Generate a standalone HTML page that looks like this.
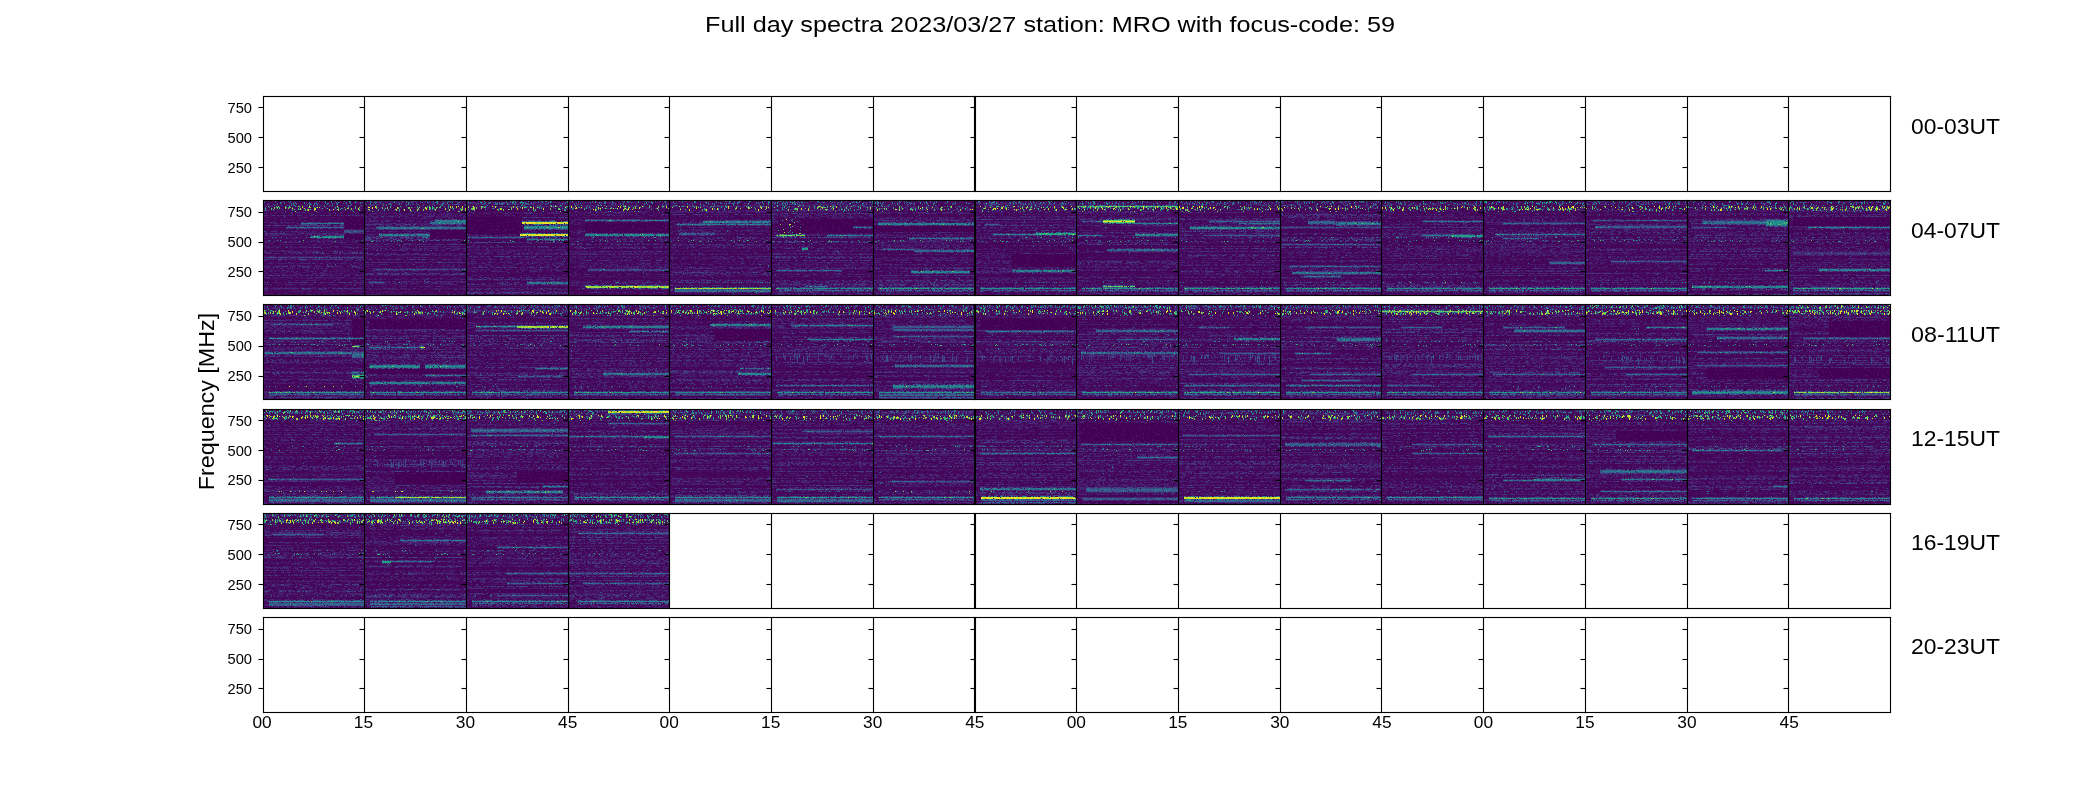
<!DOCTYPE html>
<html><head><meta charset="utf-8"><style>
html,body{margin:0;padding:0;background:#fff;}
body{width:2100px;height:800px;position:relative;overflow:hidden;}
canvas{position:absolute;background:#431e66;display:block;}
svg{position:absolute;left:0;top:0;}
text{font-family:"Liberation Sans", sans-serif;fill:#000;}
</style></head><body>
<canvas id="c1_0" width="101" height="95" style="left:263px;top:200px;width:101px;height:95px"></canvas><canvas id="c1_1" width="102" height="95" style="left:364px;top:200px;width:102px;height:95px"></canvas><canvas id="c1_2" width="102" height="95" style="left:466px;top:200px;width:102px;height:95px"></canvas><canvas id="c1_3" width="101" height="95" style="left:568px;top:200px;width:101px;height:95px"></canvas><canvas id="c1_4" width="102" height="95" style="left:669px;top:200px;width:102px;height:95px"></canvas><canvas id="c1_5" width="102" height="95" style="left:771px;top:200px;width:102px;height:95px"></canvas><canvas id="c1_6" width="102" height="95" style="left:873px;top:200px;width:102px;height:95px"></canvas><canvas id="c1_7" width="101" height="95" style="left:975px;top:200px;width:101px;height:95px"></canvas><canvas id="c1_8" width="102" height="95" style="left:1076px;top:200px;width:102px;height:95px"></canvas><canvas id="c1_9" width="102" height="95" style="left:1178px;top:200px;width:102px;height:95px"></canvas><canvas id="c1_10" width="101" height="95" style="left:1280px;top:200px;width:101px;height:95px"></canvas><canvas id="c1_11" width="102" height="95" style="left:1381px;top:200px;width:102px;height:95px"></canvas><canvas id="c1_12" width="102" height="95" style="left:1483px;top:200px;width:102px;height:95px"></canvas><canvas id="c1_13" width="102" height="95" style="left:1585px;top:200px;width:102px;height:95px"></canvas><canvas id="c1_14" width="101" height="95" style="left:1687px;top:200px;width:101px;height:95px"></canvas><canvas id="c1_15" width="102" height="95" style="left:1788px;top:200px;width:102px;height:95px"></canvas><canvas id="c2_0" width="101" height="95" style="left:263px;top:304px;width:101px;height:95px"></canvas><canvas id="c2_1" width="102" height="95" style="left:364px;top:304px;width:102px;height:95px"></canvas><canvas id="c2_2" width="102" height="95" style="left:466px;top:304px;width:102px;height:95px"></canvas><canvas id="c2_3" width="101" height="95" style="left:568px;top:304px;width:101px;height:95px"></canvas><canvas id="c2_4" width="102" height="95" style="left:669px;top:304px;width:102px;height:95px"></canvas><canvas id="c2_5" width="102" height="95" style="left:771px;top:304px;width:102px;height:95px"></canvas><canvas id="c2_6" width="102" height="95" style="left:873px;top:304px;width:102px;height:95px"></canvas><canvas id="c2_7" width="101" height="95" style="left:975px;top:304px;width:101px;height:95px"></canvas><canvas id="c2_8" width="102" height="95" style="left:1076px;top:304px;width:102px;height:95px"></canvas><canvas id="c2_9" width="102" height="95" style="left:1178px;top:304px;width:102px;height:95px"></canvas><canvas id="c2_10" width="101" height="95" style="left:1280px;top:304px;width:101px;height:95px"></canvas><canvas id="c2_11" width="102" height="95" style="left:1381px;top:304px;width:102px;height:95px"></canvas><canvas id="c2_12" width="102" height="95" style="left:1483px;top:304px;width:102px;height:95px"></canvas><canvas id="c2_13" width="102" height="95" style="left:1585px;top:304px;width:102px;height:95px"></canvas><canvas id="c2_14" width="101" height="95" style="left:1687px;top:304px;width:101px;height:95px"></canvas><canvas id="c2_15" width="102" height="95" style="left:1788px;top:304px;width:102px;height:95px"></canvas><canvas id="c3_0" width="101" height="95" style="left:263px;top:409px;width:101px;height:95px"></canvas><canvas id="c3_1" width="102" height="95" style="left:364px;top:409px;width:102px;height:95px"></canvas><canvas id="c3_2" width="102" height="95" style="left:466px;top:409px;width:102px;height:95px"></canvas><canvas id="c3_3" width="101" height="95" style="left:568px;top:409px;width:101px;height:95px"></canvas><canvas id="c3_4" width="102" height="95" style="left:669px;top:409px;width:102px;height:95px"></canvas><canvas id="c3_5" width="102" height="95" style="left:771px;top:409px;width:102px;height:95px"></canvas><canvas id="c3_6" width="102" height="95" style="left:873px;top:409px;width:102px;height:95px"></canvas><canvas id="c3_7" width="101" height="95" style="left:975px;top:409px;width:101px;height:95px"></canvas><canvas id="c3_8" width="102" height="95" style="left:1076px;top:409px;width:102px;height:95px"></canvas><canvas id="c3_9" width="102" height="95" style="left:1178px;top:409px;width:102px;height:95px"></canvas><canvas id="c3_10" width="101" height="95" style="left:1280px;top:409px;width:101px;height:95px"></canvas><canvas id="c3_11" width="102" height="95" style="left:1381px;top:409px;width:102px;height:95px"></canvas><canvas id="c3_12" width="102" height="95" style="left:1483px;top:409px;width:102px;height:95px"></canvas><canvas id="c3_13" width="102" height="95" style="left:1585px;top:409px;width:102px;height:95px"></canvas><canvas id="c3_14" width="101" height="95" style="left:1687px;top:409px;width:101px;height:95px"></canvas><canvas id="c3_15" width="102" height="95" style="left:1788px;top:409px;width:102px;height:95px"></canvas><canvas id="c4_0" width="101" height="95" style="left:263px;top:513px;width:101px;height:95px"></canvas><canvas id="c4_1" width="102" height="95" style="left:364px;top:513px;width:102px;height:95px"></canvas><canvas id="c4_2" width="102" height="95" style="left:466px;top:513px;width:102px;height:95px"></canvas><canvas id="c4_3" width="101" height="95" style="left:568px;top:513px;width:101px;height:95px"></canvas>
<svg width="2100" height="800" viewBox="0 0 2100 800">
<g fill="#000"><rect x="262.945" y="95.945" width="1628.111" height="1.111"/><rect x="262.945" y="190.945" width="1628.111" height="1.111"/><rect x="262.945" y="95.945" width="1.111" height="96.111"/><rect x="363.945" y="95.945" width="1.111" height="96.111"/><rect x="465.945" y="95.945" width="1.111" height="96.111"/><rect x="567.944" y="95.945" width="1.111" height="96.111"/><rect x="668.944" y="95.945" width="1.111" height="96.111"/><rect x="770.944" y="95.945" width="1.111" height="96.111"/><rect x="872.944" y="95.945" width="1.111" height="96.111"/><rect x="973.944" y="95.945" width="1.111" height="96.111"/><rect x="974.944" y="95.945" width="1.111" height="96.111"/><rect x="1075.945" y="95.945" width="1.111" height="96.111"/><rect x="1177.945" y="95.945" width="1.111" height="96.111"/><rect x="1279.945" y="95.945" width="1.111" height="96.111"/><rect x="1380.945" y="95.945" width="1.111" height="96.111"/><rect x="1482.945" y="95.945" width="1.111" height="96.111"/><rect x="1584.945" y="95.945" width="1.111" height="96.111"/><rect x="1686.945" y="95.945" width="1.111" height="96.111"/><rect x="1787.945" y="95.945" width="1.111" height="96.111"/><rect x="1889.945" y="95.945" width="1.111" height="96.111"/><rect x="258.500" y="166.945" width="4.500" height="1.111"/><rect x="359.500" y="166.945" width="4.500" height="1.111"/><rect x="461.500" y="166.945" width="4.500" height="1.111"/><rect x="563.500" y="166.945" width="4.500" height="1.111"/><rect x="664.500" y="166.945" width="4.500" height="1.111"/><rect x="766.500" y="166.945" width="4.500" height="1.111"/><rect x="868.500" y="166.945" width="4.500" height="1.111"/><rect x="970.500" y="166.945" width="4.500" height="1.111"/><rect x="1071.500" y="166.945" width="4.500" height="1.111"/><rect x="1173.500" y="166.945" width="4.500" height="1.111"/><rect x="1275.500" y="166.945" width="4.500" height="1.111"/><rect x="1376.500" y="166.945" width="4.500" height="1.111"/><rect x="1478.500" y="166.945" width="4.500" height="1.111"/><rect x="1580.500" y="166.945" width="4.500" height="1.111"/><rect x="1682.500" y="166.945" width="4.500" height="1.111"/><rect x="1783.500" y="166.945" width="4.500" height="1.111"/><rect x="258.500" y="136.945" width="4.500" height="1.111"/><rect x="359.500" y="136.945" width="4.500" height="1.111"/><rect x="461.500" y="136.945" width="4.500" height="1.111"/><rect x="563.500" y="136.945" width="4.500" height="1.111"/><rect x="664.500" y="136.945" width="4.500" height="1.111"/><rect x="766.500" y="136.945" width="4.500" height="1.111"/><rect x="868.500" y="136.945" width="4.500" height="1.111"/><rect x="970.500" y="136.945" width="4.500" height="1.111"/><rect x="1071.500" y="136.945" width="4.500" height="1.111"/><rect x="1173.500" y="136.945" width="4.500" height="1.111"/><rect x="1275.500" y="136.945" width="4.500" height="1.111"/><rect x="1376.500" y="136.945" width="4.500" height="1.111"/><rect x="1478.500" y="136.945" width="4.500" height="1.111"/><rect x="1580.500" y="136.945" width="4.500" height="1.111"/><rect x="1682.500" y="136.945" width="4.500" height="1.111"/><rect x="1783.500" y="136.945" width="4.500" height="1.111"/><rect x="258.500" y="106.945" width="4.500" height="1.111"/><rect x="359.500" y="106.945" width="4.500" height="1.111"/><rect x="461.500" y="106.945" width="4.500" height="1.111"/><rect x="563.500" y="106.945" width="4.500" height="1.111"/><rect x="664.500" y="106.945" width="4.500" height="1.111"/><rect x="766.500" y="106.945" width="4.500" height="1.111"/><rect x="868.500" y="106.945" width="4.500" height="1.111"/><rect x="970.500" y="106.945" width="4.500" height="1.111"/><rect x="1071.500" y="106.945" width="4.500" height="1.111"/><rect x="1173.500" y="106.945" width="4.500" height="1.111"/><rect x="1275.500" y="106.945" width="4.500" height="1.111"/><rect x="1376.500" y="106.945" width="4.500" height="1.111"/><rect x="1478.500" y="106.945" width="4.500" height="1.111"/><rect x="1580.500" y="106.945" width="4.500" height="1.111"/><rect x="1682.500" y="106.945" width="4.500" height="1.111"/><rect x="1783.500" y="106.945" width="4.500" height="1.111"/><rect x="262.945" y="199.945" width="1628.111" height="1.111"/><rect x="262.945" y="294.945" width="1628.111" height="1.111"/><rect x="262.945" y="199.945" width="1.111" height="96.111"/><rect x="363.945" y="199.945" width="1.111" height="96.111"/><rect x="465.945" y="199.945" width="1.111" height="96.111"/><rect x="567.944" y="199.945" width="1.111" height="96.111"/><rect x="668.944" y="199.945" width="1.111" height="96.111"/><rect x="770.944" y="199.945" width="1.111" height="96.111"/><rect x="872.944" y="199.945" width="1.111" height="96.111"/><rect x="973.944" y="199.945" width="1.111" height="96.111"/><rect x="974.944" y="199.945" width="1.111" height="96.111"/><rect x="1075.945" y="199.945" width="1.111" height="96.111"/><rect x="1177.945" y="199.945" width="1.111" height="96.111"/><rect x="1279.945" y="199.945" width="1.111" height="96.111"/><rect x="1380.945" y="199.945" width="1.111" height="96.111"/><rect x="1482.945" y="199.945" width="1.111" height="96.111"/><rect x="1584.945" y="199.945" width="1.111" height="96.111"/><rect x="1686.945" y="199.945" width="1.111" height="96.111"/><rect x="1787.945" y="199.945" width="1.111" height="96.111"/><rect x="1889.945" y="199.945" width="1.111" height="96.111"/><rect x="258.500" y="270.945" width="4.500" height="1.111"/><rect x="359.500" y="270.945" width="4.500" height="1.111"/><rect x="461.500" y="270.945" width="4.500" height="1.111"/><rect x="563.500" y="270.945" width="4.500" height="1.111"/><rect x="664.500" y="270.945" width="4.500" height="1.111"/><rect x="766.500" y="270.945" width="4.500" height="1.111"/><rect x="868.500" y="270.945" width="4.500" height="1.111"/><rect x="970.500" y="270.945" width="4.500" height="1.111"/><rect x="1071.500" y="270.945" width="4.500" height="1.111"/><rect x="1173.500" y="270.945" width="4.500" height="1.111"/><rect x="1275.500" y="270.945" width="4.500" height="1.111"/><rect x="1376.500" y="270.945" width="4.500" height="1.111"/><rect x="1478.500" y="270.945" width="4.500" height="1.111"/><rect x="1580.500" y="270.945" width="4.500" height="1.111"/><rect x="1682.500" y="270.945" width="4.500" height="1.111"/><rect x="1783.500" y="270.945" width="4.500" height="1.111"/><rect x="258.500" y="241.945" width="4.500" height="1.111"/><rect x="359.500" y="241.945" width="4.500" height="1.111"/><rect x="461.500" y="241.945" width="4.500" height="1.111"/><rect x="563.500" y="241.945" width="4.500" height="1.111"/><rect x="664.500" y="241.945" width="4.500" height="1.111"/><rect x="766.500" y="241.945" width="4.500" height="1.111"/><rect x="868.500" y="241.945" width="4.500" height="1.111"/><rect x="970.500" y="241.945" width="4.500" height="1.111"/><rect x="1071.500" y="241.945" width="4.500" height="1.111"/><rect x="1173.500" y="241.945" width="4.500" height="1.111"/><rect x="1275.500" y="241.945" width="4.500" height="1.111"/><rect x="1376.500" y="241.945" width="4.500" height="1.111"/><rect x="1478.500" y="241.945" width="4.500" height="1.111"/><rect x="1580.500" y="241.945" width="4.500" height="1.111"/><rect x="1682.500" y="241.945" width="4.500" height="1.111"/><rect x="1783.500" y="241.945" width="4.500" height="1.111"/><rect x="258.500" y="211.945" width="4.500" height="1.111"/><rect x="359.500" y="211.945" width="4.500" height="1.111"/><rect x="461.500" y="211.945" width="4.500" height="1.111"/><rect x="563.500" y="211.945" width="4.500" height="1.111"/><rect x="664.500" y="211.945" width="4.500" height="1.111"/><rect x="766.500" y="211.945" width="4.500" height="1.111"/><rect x="868.500" y="211.945" width="4.500" height="1.111"/><rect x="970.500" y="211.945" width="4.500" height="1.111"/><rect x="1071.500" y="211.945" width="4.500" height="1.111"/><rect x="1173.500" y="211.945" width="4.500" height="1.111"/><rect x="1275.500" y="211.945" width="4.500" height="1.111"/><rect x="1376.500" y="211.945" width="4.500" height="1.111"/><rect x="1478.500" y="211.945" width="4.500" height="1.111"/><rect x="1580.500" y="211.945" width="4.500" height="1.111"/><rect x="1682.500" y="211.945" width="4.500" height="1.111"/><rect x="1783.500" y="211.945" width="4.500" height="1.111"/><rect x="262.945" y="303.945" width="1628.111" height="1.111"/><rect x="262.945" y="398.945" width="1628.111" height="1.111"/><rect x="262.945" y="303.945" width="1.111" height="96.111"/><rect x="363.945" y="303.945" width="1.111" height="96.111"/><rect x="465.945" y="303.945" width="1.111" height="96.111"/><rect x="567.944" y="303.945" width="1.111" height="96.111"/><rect x="668.944" y="303.945" width="1.111" height="96.111"/><rect x="770.944" y="303.945" width="1.111" height="96.111"/><rect x="872.944" y="303.945" width="1.111" height="96.111"/><rect x="973.944" y="303.945" width="1.111" height="96.111"/><rect x="974.944" y="303.945" width="1.111" height="96.111"/><rect x="1075.945" y="303.945" width="1.111" height="96.111"/><rect x="1177.945" y="303.945" width="1.111" height="96.111"/><rect x="1279.945" y="303.945" width="1.111" height="96.111"/><rect x="1380.945" y="303.945" width="1.111" height="96.111"/><rect x="1482.945" y="303.945" width="1.111" height="96.111"/><rect x="1584.945" y="303.945" width="1.111" height="96.111"/><rect x="1686.945" y="303.945" width="1.111" height="96.111"/><rect x="1787.945" y="303.945" width="1.111" height="96.111"/><rect x="1889.945" y="303.945" width="1.111" height="96.111"/><rect x="258.500" y="375.945" width="4.500" height="1.111"/><rect x="359.500" y="375.945" width="4.500" height="1.111"/><rect x="461.500" y="375.945" width="4.500" height="1.111"/><rect x="563.500" y="375.945" width="4.500" height="1.111"/><rect x="664.500" y="375.945" width="4.500" height="1.111"/><rect x="766.500" y="375.945" width="4.500" height="1.111"/><rect x="868.500" y="375.945" width="4.500" height="1.111"/><rect x="970.500" y="375.945" width="4.500" height="1.111"/><rect x="1071.500" y="375.945" width="4.500" height="1.111"/><rect x="1173.500" y="375.945" width="4.500" height="1.111"/><rect x="1275.500" y="375.945" width="4.500" height="1.111"/><rect x="1376.500" y="375.945" width="4.500" height="1.111"/><rect x="1478.500" y="375.945" width="4.500" height="1.111"/><rect x="1580.500" y="375.945" width="4.500" height="1.111"/><rect x="1682.500" y="375.945" width="4.500" height="1.111"/><rect x="1783.500" y="375.945" width="4.500" height="1.111"/><rect x="258.500" y="345.945" width="4.500" height="1.111"/><rect x="359.500" y="345.945" width="4.500" height="1.111"/><rect x="461.500" y="345.945" width="4.500" height="1.111"/><rect x="563.500" y="345.945" width="4.500" height="1.111"/><rect x="664.500" y="345.945" width="4.500" height="1.111"/><rect x="766.500" y="345.945" width="4.500" height="1.111"/><rect x="868.500" y="345.945" width="4.500" height="1.111"/><rect x="970.500" y="345.945" width="4.500" height="1.111"/><rect x="1071.500" y="345.945" width="4.500" height="1.111"/><rect x="1173.500" y="345.945" width="4.500" height="1.111"/><rect x="1275.500" y="345.945" width="4.500" height="1.111"/><rect x="1376.500" y="345.945" width="4.500" height="1.111"/><rect x="1478.500" y="345.945" width="4.500" height="1.111"/><rect x="1580.500" y="345.945" width="4.500" height="1.111"/><rect x="1682.500" y="345.945" width="4.500" height="1.111"/><rect x="1783.500" y="345.945" width="4.500" height="1.111"/><rect x="258.500" y="315.945" width="4.500" height="1.111"/><rect x="359.500" y="315.945" width="4.500" height="1.111"/><rect x="461.500" y="315.945" width="4.500" height="1.111"/><rect x="563.500" y="315.945" width="4.500" height="1.111"/><rect x="664.500" y="315.945" width="4.500" height="1.111"/><rect x="766.500" y="315.945" width="4.500" height="1.111"/><rect x="868.500" y="315.945" width="4.500" height="1.111"/><rect x="970.500" y="315.945" width="4.500" height="1.111"/><rect x="1071.500" y="315.945" width="4.500" height="1.111"/><rect x="1173.500" y="315.945" width="4.500" height="1.111"/><rect x="1275.500" y="315.945" width="4.500" height="1.111"/><rect x="1376.500" y="315.945" width="4.500" height="1.111"/><rect x="1478.500" y="315.945" width="4.500" height="1.111"/><rect x="1580.500" y="315.945" width="4.500" height="1.111"/><rect x="1682.500" y="315.945" width="4.500" height="1.111"/><rect x="1783.500" y="315.945" width="4.500" height="1.111"/><rect x="262.945" y="408.945" width="1628.111" height="1.111"/><rect x="262.945" y="503.945" width="1628.111" height="1.111"/><rect x="262.945" y="408.945" width="1.111" height="96.111"/><rect x="363.945" y="408.945" width="1.111" height="96.111"/><rect x="465.945" y="408.945" width="1.111" height="96.111"/><rect x="567.944" y="408.945" width="1.111" height="96.111"/><rect x="668.944" y="408.945" width="1.111" height="96.111"/><rect x="770.944" y="408.945" width="1.111" height="96.111"/><rect x="872.944" y="408.945" width="1.111" height="96.111"/><rect x="973.944" y="408.945" width="1.111" height="96.111"/><rect x="974.944" y="408.945" width="1.111" height="96.111"/><rect x="1075.945" y="408.945" width="1.111" height="96.111"/><rect x="1177.945" y="408.945" width="1.111" height="96.111"/><rect x="1279.945" y="408.945" width="1.111" height="96.111"/><rect x="1380.945" y="408.945" width="1.111" height="96.111"/><rect x="1482.945" y="408.945" width="1.111" height="96.111"/><rect x="1584.945" y="408.945" width="1.111" height="96.111"/><rect x="1686.945" y="408.945" width="1.111" height="96.111"/><rect x="1787.945" y="408.945" width="1.111" height="96.111"/><rect x="1889.945" y="408.945" width="1.111" height="96.111"/><rect x="258.500" y="479.945" width="4.500" height="1.111"/><rect x="359.500" y="479.945" width="4.500" height="1.111"/><rect x="461.500" y="479.945" width="4.500" height="1.111"/><rect x="563.500" y="479.945" width="4.500" height="1.111"/><rect x="664.500" y="479.945" width="4.500" height="1.111"/><rect x="766.500" y="479.945" width="4.500" height="1.111"/><rect x="868.500" y="479.945" width="4.500" height="1.111"/><rect x="970.500" y="479.945" width="4.500" height="1.111"/><rect x="1071.500" y="479.945" width="4.500" height="1.111"/><rect x="1173.500" y="479.945" width="4.500" height="1.111"/><rect x="1275.500" y="479.945" width="4.500" height="1.111"/><rect x="1376.500" y="479.945" width="4.500" height="1.111"/><rect x="1478.500" y="479.945" width="4.500" height="1.111"/><rect x="1580.500" y="479.945" width="4.500" height="1.111"/><rect x="1682.500" y="479.945" width="4.500" height="1.111"/><rect x="1783.500" y="479.945" width="4.500" height="1.111"/><rect x="258.500" y="449.945" width="4.500" height="1.111"/><rect x="359.500" y="449.945" width="4.500" height="1.111"/><rect x="461.500" y="449.945" width="4.500" height="1.111"/><rect x="563.500" y="449.945" width="4.500" height="1.111"/><rect x="664.500" y="449.945" width="4.500" height="1.111"/><rect x="766.500" y="449.945" width="4.500" height="1.111"/><rect x="868.500" y="449.945" width="4.500" height="1.111"/><rect x="970.500" y="449.945" width="4.500" height="1.111"/><rect x="1071.500" y="449.945" width="4.500" height="1.111"/><rect x="1173.500" y="449.945" width="4.500" height="1.111"/><rect x="1275.500" y="449.945" width="4.500" height="1.111"/><rect x="1376.500" y="449.945" width="4.500" height="1.111"/><rect x="1478.500" y="449.945" width="4.500" height="1.111"/><rect x="1580.500" y="449.945" width="4.500" height="1.111"/><rect x="1682.500" y="449.945" width="4.500" height="1.111"/><rect x="1783.500" y="449.945" width="4.500" height="1.111"/><rect x="258.500" y="419.945" width="4.500" height="1.111"/><rect x="359.500" y="419.945" width="4.500" height="1.111"/><rect x="461.500" y="419.945" width="4.500" height="1.111"/><rect x="563.500" y="419.945" width="4.500" height="1.111"/><rect x="664.500" y="419.945" width="4.500" height="1.111"/><rect x="766.500" y="419.945" width="4.500" height="1.111"/><rect x="868.500" y="419.945" width="4.500" height="1.111"/><rect x="970.500" y="419.945" width="4.500" height="1.111"/><rect x="1071.500" y="419.945" width="4.500" height="1.111"/><rect x="1173.500" y="419.945" width="4.500" height="1.111"/><rect x="1275.500" y="419.945" width="4.500" height="1.111"/><rect x="1376.500" y="419.945" width="4.500" height="1.111"/><rect x="1478.500" y="419.945" width="4.500" height="1.111"/><rect x="1580.500" y="419.945" width="4.500" height="1.111"/><rect x="1682.500" y="419.945" width="4.500" height="1.111"/><rect x="1783.500" y="419.945" width="4.500" height="1.111"/><rect x="262.945" y="512.944" width="1628.111" height="1.111"/><rect x="262.945" y="607.944" width="1628.111" height="1.111"/><rect x="262.945" y="512.944" width="1.111" height="96.111"/><rect x="363.945" y="512.944" width="1.111" height="96.111"/><rect x="465.945" y="512.944" width="1.111" height="96.111"/><rect x="567.944" y="512.944" width="1.111" height="96.111"/><rect x="668.944" y="512.944" width="1.111" height="96.111"/><rect x="770.944" y="512.944" width="1.111" height="96.111"/><rect x="872.944" y="512.944" width="1.111" height="96.111"/><rect x="973.944" y="512.944" width="1.111" height="96.111"/><rect x="974.944" y="512.944" width="1.111" height="96.111"/><rect x="1075.945" y="512.944" width="1.111" height="96.111"/><rect x="1177.945" y="512.944" width="1.111" height="96.111"/><rect x="1279.945" y="512.944" width="1.111" height="96.111"/><rect x="1380.945" y="512.944" width="1.111" height="96.111"/><rect x="1482.945" y="512.944" width="1.111" height="96.111"/><rect x="1584.945" y="512.944" width="1.111" height="96.111"/><rect x="1686.945" y="512.944" width="1.111" height="96.111"/><rect x="1787.945" y="512.944" width="1.111" height="96.111"/><rect x="1889.945" y="512.944" width="1.111" height="96.111"/><rect x="258.500" y="583.944" width="4.500" height="1.111"/><rect x="359.500" y="583.944" width="4.500" height="1.111"/><rect x="461.500" y="583.944" width="4.500" height="1.111"/><rect x="563.500" y="583.944" width="4.500" height="1.111"/><rect x="664.500" y="583.944" width="4.500" height="1.111"/><rect x="766.500" y="583.944" width="4.500" height="1.111"/><rect x="868.500" y="583.944" width="4.500" height="1.111"/><rect x="970.500" y="583.944" width="4.500" height="1.111"/><rect x="1071.500" y="583.944" width="4.500" height="1.111"/><rect x="1173.500" y="583.944" width="4.500" height="1.111"/><rect x="1275.500" y="583.944" width="4.500" height="1.111"/><rect x="1376.500" y="583.944" width="4.500" height="1.111"/><rect x="1478.500" y="583.944" width="4.500" height="1.111"/><rect x="1580.500" y="583.944" width="4.500" height="1.111"/><rect x="1682.500" y="583.944" width="4.500" height="1.111"/><rect x="1783.500" y="583.944" width="4.500" height="1.111"/><rect x="258.500" y="553.944" width="4.500" height="1.111"/><rect x="359.500" y="553.944" width="4.500" height="1.111"/><rect x="461.500" y="553.944" width="4.500" height="1.111"/><rect x="563.500" y="553.944" width="4.500" height="1.111"/><rect x="664.500" y="553.944" width="4.500" height="1.111"/><rect x="766.500" y="553.944" width="4.500" height="1.111"/><rect x="868.500" y="553.944" width="4.500" height="1.111"/><rect x="970.500" y="553.944" width="4.500" height="1.111"/><rect x="1071.500" y="553.944" width="4.500" height="1.111"/><rect x="1173.500" y="553.944" width="4.500" height="1.111"/><rect x="1275.500" y="553.944" width="4.500" height="1.111"/><rect x="1376.500" y="553.944" width="4.500" height="1.111"/><rect x="1478.500" y="553.944" width="4.500" height="1.111"/><rect x="1580.500" y="553.944" width="4.500" height="1.111"/><rect x="1682.500" y="553.944" width="4.500" height="1.111"/><rect x="1783.500" y="553.944" width="4.500" height="1.111"/><rect x="258.500" y="523.944" width="4.500" height="1.111"/><rect x="359.500" y="523.944" width="4.500" height="1.111"/><rect x="461.500" y="523.944" width="4.500" height="1.111"/><rect x="563.500" y="523.944" width="4.500" height="1.111"/><rect x="664.500" y="523.944" width="4.500" height="1.111"/><rect x="766.500" y="523.944" width="4.500" height="1.111"/><rect x="868.500" y="523.944" width="4.500" height="1.111"/><rect x="970.500" y="523.944" width="4.500" height="1.111"/><rect x="1071.500" y="523.944" width="4.500" height="1.111"/><rect x="1173.500" y="523.944" width="4.500" height="1.111"/><rect x="1275.500" y="523.944" width="4.500" height="1.111"/><rect x="1376.500" y="523.944" width="4.500" height="1.111"/><rect x="1478.500" y="523.944" width="4.500" height="1.111"/><rect x="1580.500" y="523.944" width="4.500" height="1.111"/><rect x="1682.500" y="523.944" width="4.500" height="1.111"/><rect x="1783.500" y="523.944" width="4.500" height="1.111"/><rect x="262.945" y="616.944" width="1628.111" height="1.111"/><rect x="262.945" y="711.944" width="1628.111" height="1.111"/><rect x="262.945" y="616.944" width="1.111" height="96.111"/><rect x="363.945" y="616.944" width="1.111" height="96.111"/><rect x="465.945" y="616.944" width="1.111" height="96.111"/><rect x="567.944" y="616.944" width="1.111" height="96.111"/><rect x="668.944" y="616.944" width="1.111" height="96.111"/><rect x="770.944" y="616.944" width="1.111" height="96.111"/><rect x="872.944" y="616.944" width="1.111" height="96.111"/><rect x="973.944" y="616.944" width="1.111" height="96.111"/><rect x="974.944" y="616.944" width="1.111" height="96.111"/><rect x="1075.945" y="616.944" width="1.111" height="96.111"/><rect x="1177.945" y="616.944" width="1.111" height="96.111"/><rect x="1279.945" y="616.944" width="1.111" height="96.111"/><rect x="1380.945" y="616.944" width="1.111" height="96.111"/><rect x="1482.945" y="616.944" width="1.111" height="96.111"/><rect x="1584.945" y="616.944" width="1.111" height="96.111"/><rect x="1686.945" y="616.944" width="1.111" height="96.111"/><rect x="1787.945" y="616.944" width="1.111" height="96.111"/><rect x="1889.945" y="616.944" width="1.111" height="96.111"/><rect x="258.500" y="687.944" width="4.500" height="1.111"/><rect x="359.500" y="687.944" width="4.500" height="1.111"/><rect x="461.500" y="687.944" width="4.500" height="1.111"/><rect x="563.500" y="687.944" width="4.500" height="1.111"/><rect x="664.500" y="687.944" width="4.500" height="1.111"/><rect x="766.500" y="687.944" width="4.500" height="1.111"/><rect x="868.500" y="687.944" width="4.500" height="1.111"/><rect x="970.500" y="687.944" width="4.500" height="1.111"/><rect x="1071.500" y="687.944" width="4.500" height="1.111"/><rect x="1173.500" y="687.944" width="4.500" height="1.111"/><rect x="1275.500" y="687.944" width="4.500" height="1.111"/><rect x="1376.500" y="687.944" width="4.500" height="1.111"/><rect x="1478.500" y="687.944" width="4.500" height="1.111"/><rect x="1580.500" y="687.944" width="4.500" height="1.111"/><rect x="1682.500" y="687.944" width="4.500" height="1.111"/><rect x="1783.500" y="687.944" width="4.500" height="1.111"/><rect x="258.500" y="658.944" width="4.500" height="1.111"/><rect x="359.500" y="658.944" width="4.500" height="1.111"/><rect x="461.500" y="658.944" width="4.500" height="1.111"/><rect x="563.500" y="658.944" width="4.500" height="1.111"/><rect x="664.500" y="658.944" width="4.500" height="1.111"/><rect x="766.500" y="658.944" width="4.500" height="1.111"/><rect x="868.500" y="658.944" width="4.500" height="1.111"/><rect x="970.500" y="658.944" width="4.500" height="1.111"/><rect x="1071.500" y="658.944" width="4.500" height="1.111"/><rect x="1173.500" y="658.944" width="4.500" height="1.111"/><rect x="1275.500" y="658.944" width="4.500" height="1.111"/><rect x="1376.500" y="658.944" width="4.500" height="1.111"/><rect x="1478.500" y="658.944" width="4.500" height="1.111"/><rect x="1580.500" y="658.944" width="4.500" height="1.111"/><rect x="1682.500" y="658.944" width="4.500" height="1.111"/><rect x="1783.500" y="658.944" width="4.500" height="1.111"/><rect x="258.500" y="628.944" width="4.500" height="1.111"/><rect x="359.500" y="628.944" width="4.500" height="1.111"/><rect x="461.500" y="628.944" width="4.500" height="1.111"/><rect x="563.500" y="628.944" width="4.500" height="1.111"/><rect x="664.500" y="628.944" width="4.500" height="1.111"/><rect x="766.500" y="628.944" width="4.500" height="1.111"/><rect x="868.500" y="628.944" width="4.500" height="1.111"/><rect x="970.500" y="628.944" width="4.500" height="1.111"/><rect x="1071.500" y="628.944" width="4.500" height="1.111"/><rect x="1173.500" y="628.944" width="4.500" height="1.111"/><rect x="1275.500" y="628.944" width="4.500" height="1.111"/><rect x="1376.500" y="628.944" width="4.500" height="1.111"/><rect x="1478.500" y="628.944" width="4.500" height="1.111"/><rect x="1580.500" y="628.944" width="4.500" height="1.111"/><rect x="1682.500" y="628.944" width="4.500" height="1.111"/><rect x="1783.500" y="628.944" width="4.500" height="1.111"/></g>
<text x="705" y="32" font-size="22.6" textLength="690" lengthAdjust="spacingAndGlyphs">Full day spectra 2023/03/27 station: MRO with focus-code: 59</text><text x="1911" y="133.9" font-size="22.7" textLength="89" lengthAdjust="spacingAndGlyphs">00-03UT</text><text x="252" y="172.7" font-size="14.7" text-anchor="end">250</text><text x="252" y="142.78" font-size="14.7" text-anchor="end">500</text><text x="252" y="112.87" font-size="14.7" text-anchor="end">750</text><text x="1911" y="237.95" font-size="22.7" textLength="89" lengthAdjust="spacingAndGlyphs">04-07UT</text><text x="252" y="276.94" font-size="14.7" text-anchor="end">250</text><text x="252" y="247.03" font-size="14.7" text-anchor="end">500</text><text x="252" y="217.11" font-size="14.7" text-anchor="end">750</text><text x="1911" y="342.0" font-size="22.7" textLength="89" lengthAdjust="spacingAndGlyphs">08-11UT</text><text x="252" y="381.19" font-size="14.7" text-anchor="end">250</text><text x="252" y="351.28" font-size="14.7" text-anchor="end">500</text><text x="252" y="321.36" font-size="14.7" text-anchor="end">750</text><text x="1911" y="446.05" font-size="22.7" textLength="89" lengthAdjust="spacingAndGlyphs">12-15UT</text><text x="252" y="485.44" font-size="14.7" text-anchor="end">250</text><text x="252" y="455.52" font-size="14.7" text-anchor="end">500</text><text x="252" y="425.61" font-size="14.7" text-anchor="end">750</text><text x="1911" y="550.1" font-size="22.7" textLength="89" lengthAdjust="spacingAndGlyphs">16-19UT</text><text x="252" y="589.69" font-size="14.7" text-anchor="end">250</text><text x="252" y="559.77" font-size="14.7" text-anchor="end">500</text><text x="252" y="529.86" font-size="14.7" text-anchor="end">750</text><text x="1911" y="654.15" font-size="22.7" textLength="89" lengthAdjust="spacingAndGlyphs">20-23UT</text><text x="252" y="693.93" font-size="14.7" text-anchor="end">250</text><text x="252" y="664.02" font-size="14.7" text-anchor="end">500</text><text x="252" y="634.1" font-size="14.7" text-anchor="end">750</text><text x="262.0" y="728.3" font-size="17.3" text-anchor="middle">00</text><text x="363.49" y="728.3" font-size="17.3" text-anchor="middle">15</text><text x="465.48" y="728.3" font-size="17.3" text-anchor="middle">30</text><text x="567.67" y="728.3" font-size="17.3" text-anchor="middle">45</text><text x="669.16" y="728.3" font-size="17.3" text-anchor="middle">00</text><text x="770.65" y="728.3" font-size="17.3" text-anchor="middle">15</text><text x="872.64" y="728.3" font-size="17.3" text-anchor="middle">30</text><text x="974.83" y="728.3" font-size="17.3" text-anchor="middle">45</text><text x="1076.32" y="728.3" font-size="17.3" text-anchor="middle">00</text><text x="1177.81" y="728.3" font-size="17.3" text-anchor="middle">15</text><text x="1279.8" y="728.3" font-size="17.3" text-anchor="middle">30</text><text x="1381.99" y="728.3" font-size="17.3" text-anchor="middle">45</text><text x="1483.48" y="728.3" font-size="17.3" text-anchor="middle">00</text><text x="1584.97" y="728.3" font-size="17.3" text-anchor="middle">15</text><text x="1686.96" y="728.3" font-size="17.3" text-anchor="middle">30</text><text x="1789.15" y="728.3" font-size="17.3" text-anchor="middle">45</text><text transform="translate(214,401.5) rotate(-90)" font-size="22.1" text-anchor="middle"  textLength="177.4" lengthAdjust="spacingAndGlyphs">Frequency [MHz]</text>
</svg>
<script>
var FEAT={"c1_0":{"t":[0.25,0.3],"f":[[0,22.9,0.38,0.8,0.45,1],[0,26.8,0.23,0.8,0.35,1],[0,31.1,0.8,1.0,0.28,3],[0,36.5,0.48,0.8,0.5,2],[1,17.1,0.8,1.0,28.8],[1,31.7,0.8,1.0,39.4],[0,56.9,0.0,1.0,0.2,1]]},"c1_1":{"t":[0.25,0.35],"f":[[0,20.6,0.7,1.0,0.45,2],[0,22.9,0.65,1.0,0.4,2],[0,27.8,0.12,1.0,0.4,2],[0,34.6,0.15,0.65,0.45,2],[1,29.7,0.65,1.0,39.4],[0,68.6,0.1,1.0,0.25,1],[0,82.2,0.05,0.2,0.3,1]]},"c1_2":{"t":[0.3,0.35],"f":[[1,17.1,0.0,0.55,33.6],[0,22.0,0.55,1.0,0.95,2],[0,27.4,0.57,1.0,0.6,3],[0,34.6,0.53,1.0,0.95,2],[0,38.5,0.6,1.0,0.45,1],[0,82.8,0.6,1.0,0.4,2],[0,36.5,0.02,0.55,0.3,1]]},"c1_3":{"t":[0.25,0.35],"f":[[0,20.0,0.17,1.0,0.4,1],[0,34.6,0.17,1.0,0.5,2],[1,21.0,0.17,1.0,32.6],[0,86.1,0.17,1.0,0.85,2],[0,69.6,0.2,1.0,0.22,2]]},"c1_4":{"t":[0.25,0.3],"f":[[0,21.0,0.33,1.0,0.45,2],[0,23.5,0.08,1.0,0.45,1],[0,33.6,0.1,0.45,0.3,2],[0,88.0,0.06,1.0,0.85,1],[0,90.5,0.06,1.0,0.35,2]]},"c1_5":{"t":[0.3,0.35],"f":[[1,19.0,0.3,1.0,32.6],[0,34.6,0.05,0.33,0.8,1],[4,19.0,0.07,0.3,36.5],[0,34.6,0.55,1.0,0.45,1],[0,27.4,0.8,1.0,0.4,1],[0,48.8,0.3,0.36,0.6,2],[0,69.6,0.05,0.7,0.35,1],[0,86.1,0.33,0.55,0.4,1],[0,88.0,0.05,1.0,0.5,1]]},"c1_6":{"t":[0.25,0.3],"f":[[0,23.5,0.05,1.0,0.45,2],[1,24.9,0.0,1.0,31.7],[0,37.5,0.35,1.0,0.4,1],[0,48.6,0.1,0.4,0.35,1],[0,50.1,0.4,1.0,0.35,2],[0,71.1,0.37,0.95,0.5,2],[0,88.0,0.05,1.0,0.6,1]]},"c1_7":{"t":[0.25,0.35],"f":[[0,23.5,0.1,0.25,0.35,1],[0,33.6,0.18,0.6,0.45,1],[0,33.6,0.6,1.0,0.65,2],[1,54.0,0.37,1.0,66.6],[0,70.5,0.37,1.0,0.45,2],[0,88.0,0.05,1.0,0.55,1]]},"c1_8":{"t":[0.3,0.5],"f":[[0,6.4,0.0,1.0,0.7,1],[0,21.0,0.26,0.58,0.95,3],[0,22.9,0.58,1.0,0.45,1],[0,21.0,0.06,0.26,0.3,1],[0,34.6,0.02,0.25,0.4,1],[0,34.6,0.58,1.0,0.45,2],[0,49.2,0.3,1.0,0.35,2],[0,86.1,0.26,0.58,0.75,1],[0,88.0,0.06,1.0,0.55,1]]},"c1_9":{"t":[0.25,0.3],"f":[[0,20.6,0.3,1.0,0.35,1],[0,22.9,0.6,1.0,0.4,1],[0,27.2,0.12,1.0,0.5,2],[0,34.6,0.3,1.0,0.3,1],[0,88.0,0.06,1.0,0.55,1]]},"c1_10":{"t":[0.25,0.25],"f":[[0,22.0,0.28,0.55,0.4,3],[0,22.9,0.55,1.0,0.5,3],[0,26.8,0.0,1.0,0.25,1],[0,44.3,0.0,1.0,0.3,1],[0,65.7,0.1,1.0,0.35,1],[0,72.1,0.12,1.0,0.4,2],[0,76.4,0.22,0.6,0.4,1],[0,88.0,0.06,1.0,0.55,1]]},"c1_11":{"t":[0.25,0.45],"f":[[0,21.0,0.4,1.0,0.4,1],[0,35.0,0.4,0.7,0.45,1],[0,35.0,0.7,1.0,0.6,2],[2,82.2,0.2,0.8],[0,88.0,0.06,1.0,0.5,1]]},"c1_12":{"t":[0.35,0.5],"f":[[0,23.0,0.2,1.0,0.35,1],[0,33.8,0.12,1.0,0.4,1],[0,37.7,0.2,0.55,0.35,1],[0,62.1,0.65,1.0,0.35,2],[0,88.4,0.06,1.0,0.6,1]]},"c1_13":{"t":[0.25,0.25],"f":[[0,20.1,0.08,1.0,0.28,1],[0,26.9,0.1,1.0,0.3,2],[0,61.1,0.25,1.0,0.3,1],[0,88.4,0.06,1.0,0.55,1]]},"c1_14":{"t":[0.25,0.4],"f":[[0,21.5,0.15,0.78,0.45,3],[0,22.1,0.78,1.0,0.55,6],[0,26.9,0.05,0.4,0.3,1],[0,69.9,0.77,1.0,0.45,1],[0,86.5,0.05,1.0,0.5,2]]},"c1_15":{"t":[0.3,0.5],"f":[[1,17.2,0.05,1.0,26.0],[0,26.9,0.2,1.0,0.45,1],[0,53.3,0.05,1.0,0.18,3],[0,69.5,0.3,1.0,0.45,2],[0,87.9,0.05,1.0,0.6,1]]},"c2_0":{"t":[0.3,0.45],"f":[[0,20.0,0.1,0.7,0.3,1],[0,34.0,0.06,1.0,0.45,1],[0,48.6,0.02,0.88,0.4,2],[0,42.4,0.88,1.0,0.8,1],[1,15.2,0.88,1.0,42.4],[0,50.1,0.88,1.0,0.35,6],[0,67.6,0.88,1.0,0.5,1],[0,71.5,0.88,1.0,0.85,3],[2,82.2,0.15,0.8],[0,88.0,0.06,1.0,0.55,1]]},"c2_1":{"t":[0.2,0.35],"f":[[1,15.2,0.05,1.0,24.9],[0,43.3,0.05,0.55,0.4,1],[0,43.3,0.55,0.6,0.8,1],[0,61.8,0.05,0.55,0.55,3],[0,61.8,0.6,1.0,0.55,3],[1,63.7,0.05,1.0,69.6],[0,71.1,0.6,1.0,0.4,1],[0,78.9,0.05,1.0,0.45,2],[0,88.0,0.06,1.0,0.55,1]]},"c2_2":{"t":[0.25,0.35],"f":[[0,22.0,0.1,0.5,0.5,1],[0,22.0,0.5,1.0,0.85,2],[0,25.8,0.1,1.0,0.3,1],[0,63.7,0.68,1.0,0.45,1],[0,71.5,0.5,1.0,0.3,1],[0,88.0,0.06,1.0,0.55,1]]},"c2_3":{"t":[0.25,0.4],"f":[[0,22.9,0.15,1.0,0.45,2],[0,26.8,0.6,1.0,0.4,1],[0,69.6,0.35,1.0,0.4,2],[0,88.0,0.06,1.0,0.55,1]]},"c2_4":{"t":[0.25,0.5],"f":[[0,20.6,0.4,1.0,0.45,2],[1,24.9,0.45,1.0,36.5],[0,63.7,0.7,1.0,0.35,1],[0,69.2,0.68,1.0,0.5,2],[0,88.0,0.06,1.0,0.5,1]]},"c2_5":{"t":[0.35,0.3],"f":[[0,20.6,0.2,1.0,0.45,1],[0,34.6,0.35,1.0,0.45,1],[3,54.0,0.05,1.0],[0,81.2,0.05,1.0,0.35,1],[0,88.0,0.06,1.0,0.55,1]]},"c2_6":{"t":[0.3,0.4],"f":[[0,22.0,0.2,1.0,0.3,2],[0,25.8,0.2,1.0,0.3,2],[0,31.7,0.2,1.0,0.3,1],[3,54.0,0.05,1.0],[0,61.8,0.22,1.0,0.35,2],[0,82.2,0.2,1.0,0.55,3],[0,88.0,0.06,1.0,0.55,1],[0,90.9,0.06,1.0,0.35,1]]},"c2_7":{"t":[0.4,0.3],"f":[[1,15.2,0.05,1.0,25.8],[0,27.2,0.1,1.0,0.4,1],[3,56.0,0.05,1.0],[0,88.0,0.06,1.0,0.4,1]]},"c2_8":{"t":[0.5,0.4],"f":[[0,26.8,0.2,1.0,0.35,2],[0,34.6,0.4,1.0,0.3,1],[0,48.6,0.05,1.0,0.35,2],[3,54.0,0.05,1.0],[0,88.0,0.06,1.0,0.6,1]]},"c2_9":{"t":[0.4,0.3],"f":[[0,22.9,0.2,0.5,0.3,1],[0,34.2,0.55,1.0,0.45,2],[0,48.6,0.4,1.0,0.3,1],[3,54.0,0.05,1.0],[0,69.9,0.1,1.0,0.35,1],[0,80.8,0.06,1.0,0.4,1],[0,88.0,0.06,1.0,0.65,1]]},"c2_10":{"t":[0.35,0.4],"f":[[0,22.9,0.25,1.0,0.3,1],[0,34.6,0.55,1.0,0.45,3],[0,48.6,0.15,0.5,0.35,1],[0,69.6,0.3,1.0,0.35,1],[0,76.0,0.22,0.8,0.35,1],[0,80.8,0.06,1.0,0.4,1],[0,88.0,0.06,1.0,0.55,1]]},"c2_11":{"t":[0.25,0.5],"f":[[0,7.4,0.0,1.0,0.75,1],[0,22.9,0.2,0.6,0.3,1],[3,54.0,0.05,1.0],[0,69.6,0.3,1.0,0.35,1],[0,80.8,0.06,0.5,0.3,1],[0,88.0,0.06,1.0,0.5,1]]},"c2_12":{"t":[0.3,0.45],"f":[[0,23.0,0.2,0.8,0.35,1],[0,26.6,0.3,1.0,0.4,2],[0,69.9,0.1,1.0,0.35,1],[0,88.4,0.06,1.0,0.55,1]]},"c2_13":{"t":[0.55,0.5],"f":[[0,23.0,0.6,1.0,0.4,1],[0,34.8,0.1,1.0,0.4,1],[3,56.2,0.05,1.0],[0,63.1,0.2,1.0,0.3,1],[0,70.3,0.4,1.0,0.35,1],[0,88.4,0.06,1.0,0.5,1]]},"c2_14":{"t":[0.35,0.4],"f":[[0,24.0,0.2,1.0,0.45,2],[0,33.8,0.3,1.0,0.35,2],[0,48.4,0.1,1.0,0.35,1],[0,61.1,0.1,1.0,0.3,1],[1,64.0,0.2,1.0,74.8],[2,81.6,0.3,0.7],[0,87.5,0.05,1.0,0.55,3]]},"c2_15":{"t":[0.6,0.6],"f":[[1,17.2,0.4,1.0,32.8],[0,33.8,0.15,1.0,0.35,1],[3,56.2,0.05,1.0],[1,64.0,0.3,1.0,73.8],[0,87.9,0.06,1.0,0.8,1]]},"c3_0":{"t":[0.55,0.5],"f":[[0,33.8,0.7,1.0,0.4,1],[0,69.7,0.05,1.0,0.3,1],[2,82.0,0.15,0.8],[0,88.2,0.06,1.0,0.55,1],[0,91.1,0.06,1.0,0.35,3]]},"c3_1":{"t":[0.5,0.6],"f":[[0,25.1,0.1,1.0,0.3,1],[3,55.2,0.05,1.0],[1,62.9,0.3,1.0,74.6],[2,82.0,0.05,0.9],[0,88.2,0.06,0.3,0.55,1],[0,88.2,0.3,1.0,0.85,1],[0,91.1,0.06,1.0,0.4,3]]},"c3_2":{"t":[0.5,0.3],"f":[[0,21.2,0.05,1.0,0.4,3],[0,25.6,0.05,1.0,0.35,1],[1,62.9,0.5,1.0,72.7],[0,76.5,0.75,1.0,0.45,1],[0,82.0,0.2,0.95,0.45,2],[2,82.0,0.2,0.95],[0,88.2,0.05,1.0,0.4,1]]},"c3_3":{"t":[0.3,0.3],"f":[[0,2.3,0.4,1.0,0.9,2],[0,14.4,0.4,1.0,0.3,1],[0,27.0,0.0,0.75,0.4,1],[0,27.0,0.75,1.0,0.5,2],[0,88.2,0.06,1.0,0.55,1]]},"c3_4":{"t":[0.45,0.35],"f":[[0,27.0,0.05,1.0,0.3,1],[0,43.5,0.05,1.0,0.3,1],[0,88.2,0.06,1.0,0.5,1],[0,91.1,0.06,1.0,0.35,3]]},"c3_5":{"t":[0.3,0.3],"f":[[0,22.1,0.3,1.0,0.3,1],[0,33.8,0.02,1.0,0.45,1],[0,79.5,0.05,1.0,0.3,1],[0,88.2,0.06,1.0,0.55,1],[0,91.1,0.06,1.0,0.35,2]]},"c3_6":{"t":[0.3,0.5],"f":[[0,27.0,0.05,1.0,0.35,1],[0,71.7,0.15,1.0,0.3,1],[2,82.0,0.15,0.95],[0,88.2,0.06,1.0,0.5,1]]},"c3_7":{"t":[0.3,0.4],"f":[[0,44.1,0.05,1.0,0.4,1],[0,79.5,0.05,1.0,0.4,2],[2,82.0,0.05,0.9],[0,88.2,0.06,1.0,0.95,2],[0,91.1,0.06,1.0,0.35,1]]},"c3_8":{"t":[0.45,0.3],"f":[[1,14.4,0.05,1.0,31.9],[0,34.8,0.05,1.0,0.35,1],[0,48.4,0.6,1.0,0.4,1],[0,80.4,0.1,1.0,0.35,4],[0,89.2,0.06,1.0,0.3,2]]},"c3_9":{"t":[0.3,0.4],"f":[[0,26.0,0.05,1.0,0.3,1],[0,88.2,0.06,1.0,0.95,2],[0,91.1,0.06,1.0,0.35,2]]},"c3_10":{"t":[0.3,0.3],"f":[[0,34.8,0.05,1.0,0.35,3],[0,70.7,0.25,0.7,0.4,1],[0,80.4,0.05,1.0,0.35,1],[0,88.2,0.06,1.0,0.5,1]]},"c3_11":{"t":[0.3,0.35],"f":[[0,34.8,0.3,1.0,0.3,1],[0,43.5,0.3,1.0,0.3,1],[0,88.2,0.06,1.0,0.5,1]]},"c3_12":{"t":[0.35,0.4],"f":[[0,27.1,0.05,1.0,0.4,1],[0,70.7,0.2,0.5,0.35,1],[0,70.7,0.5,1.0,0.45,2],[0,88.6,0.06,1.0,0.55,1]]},"c3_13":{"t":[0.4,0.4],"f":[[1,22.3,0.3,1.0,32.0],[0,34.9,0.07,1.0,0.35,1],[0,62.3,0.15,1.0,0.45,3],[0,70.1,0.35,1.0,0.4,1],[0,81.8,0.15,1.0,0.35,1],[0,88.6,0.06,1.0,0.55,1]]},"c3_14":{"t":[0.5,0.5],"f":[[0,40.8,0.05,1.0,0.35,1],[0,76.9,0.85,1.0,0.45,1],[0,88.6,0.06,1.0,0.5,1]]},"c3_15":{"t":[0.3,0.35],"f":[[0,88.6,0.06,1.0,0.5,1]]},"c4_0":{"t":[0.5,0.6],"f":[[0,21.2,0.1,0.6,0.3,1],[0,88.2,0.06,1.0,0.55,1],[0,91.1,0.06,1.0,0.35,3]]},"c4_1":{"t":[0.55,0.55],"f":[[0,27.0,0.35,1.0,0.4,1],[0,48.4,0.18,0.26,0.6,2],[0,48.4,0.26,0.7,0.35,1],[0,88.2,0.06,1.0,0.5,1],[0,91.1,0.06,1.0,0.35,1]]},"c4_2":{"t":[0.45,0.5],"f":[[0,33.8,0.3,1.0,0.35,1],[0,60.0,0.4,1.0,0.35,1],[0,69.7,0.4,1.0,0.35,1],[0,82.4,0.3,1.0,0.3,1],[0,88.2,0.06,1.0,0.5,1]]},"c4_3":{"t":[0.55,0.55],"f":[[0,20.2,0.1,1.0,0.35,1],[0,60.0,0.0,1.0,0.35,1],[0,69.7,0.15,1.0,0.35,1],[0,88.2,0.1,1.0,0.5,1]]}};(function(){
var VS=[[68,1,84],[72,36,117],[65,68,135],[53,95,141],[42,120,142],[33,145,140],[34,168,132],[68,191,112],[122,209,81],[189,223,38],[253,231,37]];
function cm(v){if(v<0)v=0;if(v>1)v=1;var f=v*10,i=Math.floor(f);if(i>=10)return VS[10];var t=f-i,a=VS[i],b=VS[i+1];return[a[0]+(b[0]-a[0])*t,a[1]+(b[1]-a[1])*t,a[2]+(b[2]-a[2])*t];}
function rng(s){return function(){s|=0;s=s+0x6D2B79F5|0;var t=Math.imul(s^s>>>15,1|s);t=t+Math.imul(t^t>>>7,61|t)^t;return((t^t>>>14)>>>0)/4294967296;};}
var cs=document.getElementsByTagName('canvas');
for(var n=0;n<cs.length;n++){
 var c=cs[n],id=c.id,W=c.width,H=c.height,P=FEAT[id]||{t:[.3,.3],f:[]};
 var ctx=c.getContext('2d');var img=ctx.createImageData(W,H);var d=img.data;
 var R=rng(n*7919+13);
 var v=new Float32Array(W*H);
 var base=new Float32Array(H),amp=new Float32Array(H);
 for(var y=0;y<H;y++){var r=R();if(r<0.3){base[y]=0.03;amp[y]=0.2;}else if(r<0.85){base[y]=0.05+R()*0.05;amp[y]=0.3+R()*0.25;}else{base[y]=0.09+R()*0.07;amp[y]=0.45+R()*0.2;}}
 for(var y=0;y<H;y++){var run=0,rv=0;for(var x=0;x<W;x++){var q;if(run>0){q=rv;run--;}else if(R()<amp[y]){rv=base[y]*(0.5+R());run=Math.floor(R()*3);q=rv;}else q=R()*0.02;if(R()<0.006)q=0.18+R()*0.22;v[y*W+x]=q;}}
 // 500 line speckle
 for(var x=0;x<W;x++){if(R()<0.18){var yy=40+(R()<0.5?0:1);v[yy*W+x]=0.3+R()*0.45;}if(R()<0.1){v[37*W+x]=0.3+R()*0.35;}}
 // speckle line near 82
 for(var x=0;x<W;x++){if(R()<0.06)v[82*W+x]=0.3+R()*0.3;}
 var f=P.f;
 for(var k=0;k<f.length;k++){var e=f[k],x0=Math.round(e[2]*W),x1=Math.round(e[3]*W);
  if(e[0]==1){var y0=Math.round(e[1]),y1=Math.round(e[4]);
   for(var y=y0;y<y1&&y<H;y++)for(var x=x0;x<x1;x++)v[y*W+x]=R()<0.15?R()*0.08:0;}
  else if(e[0]==4){var y0=Math.round(e[1]),y1=Math.round(e[4]);for(var y=y0;y<y1&&y<H;y++)for(var x=x0;x<x1;x++){v[y*W+x]=R()<0.2?R()*0.1:0;if(R()<0.06){var L=1+Math.floor(R()*3),val=0.3+R()*0.7;for(var q=0;q<L&&y+q<y1;q++)v[(y+q)*W+x]=val;}}}
 }
 // top band
 var td=P.t[0],yd=P.t[1];
 for(var x=0;x<W;x++){
  for(var y=1;y<4;y++){if(R()<td*0.6){var h=1+Math.floor(R()*2),val=0.2+Math.pow(R(),1.2)*(0.1+td*0.95);for(var q=0;q<h;q++)v[(y+q)*W+x]=Math.max(v[(y+q)*W+x],val);}}
  if(R()<0.1){v[4*W+x]=Math.max(v[4*W+x],0.15+R()*0.25);}if(R()<0.1){v[5*W+x]=Math.max(v[5*W+x],0.25+R()*0.4);}
  for(var y=6;y<10;y++){if(R()<yd*0.5){var h=1+Math.floor(R()*2),val=0.45+R()*0.55;for(var q=0;q<h&&y+q<11;q++)v[(y+q)*W+x]=Math.max(v[(y+q)*W+x],val);}}
  if(R()<0.05){v[11*W+x]=Math.max(v[11*W+x],0.4+R()*0.4);}
 }
 for(var k=0;k<f.length;k++){var e=f[k],x0=Math.round(e[2]*W),x1=Math.round(e[3]*W);
  if(e[0]==0){var th=e[5],yc=Math.round(e[1]-(th-1)/2);
   for(var x=x0;x<x1;x++){if(R()<0.6){var a=v[(yc-1)*W+x],b=e[4]*(0.3+R()*0.25);if(yc>0)v[(yc-1)*W+x]=Math.max(a,b);}if(R()<0.6&&yc+th<H){var b2=e[4]*(0.3+R()*0.25);v[(yc+th)*W+x]=Math.max(v[(yc+th)*W+x],b2);}}
   if(e[1]>84&&e[2]<0.11&&th==1){for(var x=x0;x<x1;x++){if(R()<0.8&&yc+2<H)v[(yc+2)*W+x]=Math.max(v[(yc+2)*W+x],0.22+R()*0.15);if(R()<0.5&&yc+3<H)v[(yc+3)*W+x]=Math.max(v[(yc+3)*W+x],0.12+R()*0.12);}}
   for(var y=yc;y<yc+th&&y<H;y++){if(y<0)continue;for(var x=x0;x<x1;x++){if(R()<0.03)continue;var val=(e[4]<0.7?e[4]*0.9:e[4])+(R()-0.5)*0.18;if(R()<0.04)val+=0.3;if(th>=3&&(y==yc||y==yc+th-1))val*=0.75;v[y*W+x]=Math.max(v[y*W+x],val);}}}
  else if(e[0]==3){var yc=Math.round(e[1]);for(var x=x0;x<x1;x++){if(R()<0.3){var L=2+Math.floor(R()*6),val=0.12+R()*0.16,y0=yc-4+Math.floor(R()*3);for(var q=0;q<L;q++){var yy=y0+q;if(yy>=0&&yy<H)v[yy*W+x]=Math.max(v[yy*W+x],val*(0.7+R()*0.5));}}}}
  else if(e[0]==2){var y=Math.round(e[1]);for(var x=x0;x<x1;x++){if(R()<0.08)v[y*W+x]=0.75+R()*0.25;}}
 }
 for(var i=0;i<W*H;i++){var col=cm(v[i]);d[4*i]=col[0];d[4*i+1]=col[1];d[4*i+2]=col[2];d[4*i+3]=255;}
 ctx.putImageData(img,0,0);
}
})();

</script>
</body></html>
